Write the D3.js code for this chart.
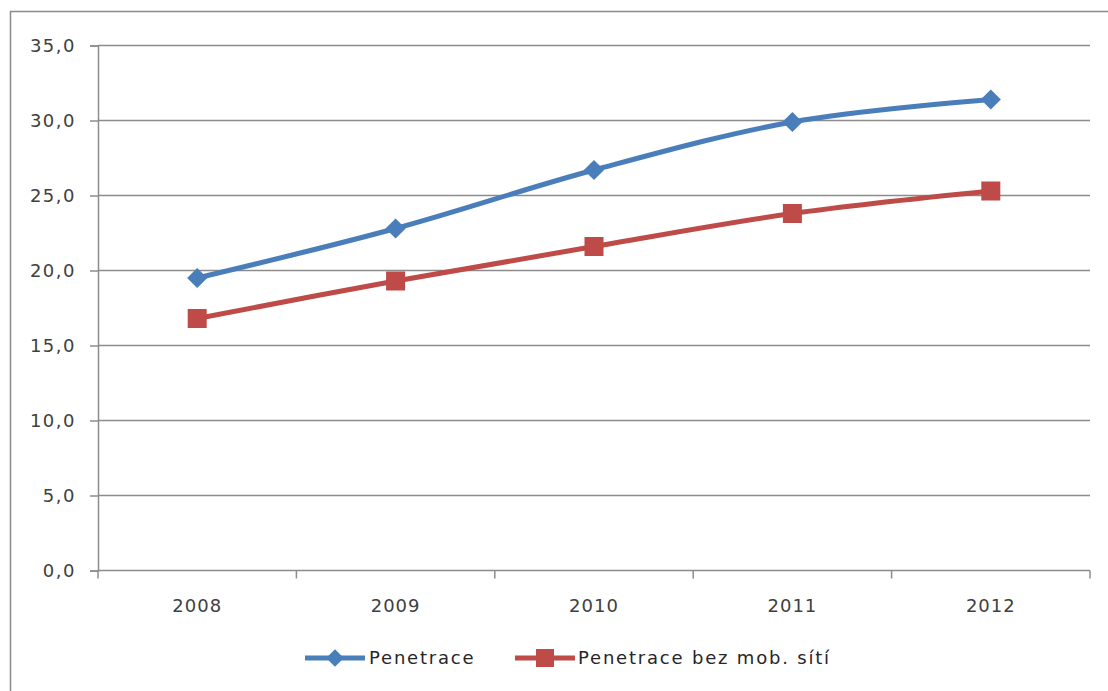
<!DOCTYPE html>
<html><head><meta charset="utf-8">
<script src="https://cdn.jsdelivr.net/npm/d3@7"></script>
<style>body{margin:0;background:#fff}svg{display:block}</style>
</head><body>
<script>
const years = ["2008","2009","2010","2011","2012"];
const penetrace = [19.5, 22.8, 26.7, 29.9, 31.4];
const penetraceBezMob = [16.8, 19.3, 21.6, 23.8, 25.3];
const yTicks = [0,5,10,15,20,25,30,35];
const seriesNames = ["Penetrace","Penetrace bez mob. sítí"];
const colors = ["#4A7EBB","#BE4B48"];

(function(){
const W=1108,H=691;
const svg=d3.select("body").append("svg").attr("width",W).attr("height",H);
const font="DejaVu Sans";
svg.append("rect").attr("x",10.5).attr("y",11.5).attr("width",1200).attr("height",800)
  .attr("fill","#fff").attr("stroke","#8a8a8a").attr("stroke-width",1.5);

const pLeft=98,pRight=1090,pTop=45.5,pBottom=570.5;
const x=d3.scaleBand().domain(years).range([pLeft,pRight]);
const y=d3.scaleLinear().domain([0,35]).range([pBottom,pTop]);

svg.append("g").selectAll("line").data(yTicks.filter(d=>d>0)).join("line")
  .attr("x1",pLeft).attr("x2",pRight).attr("y1",d=>y(d)).attr("y2",d=>y(d))
  .attr("stroke","#8c8c8c").attr("stroke-width",1.5);

const ya=svg.append("g").attr("transform",`translate(${pLeft},0)`)
  .call(d3.axisLeft(y).tickValues(yTicks).tickSize(8).tickPadding(14).tickFormat(d=>d3.format(".1f")(d).replace(".",",")));
ya.select(".domain").attr("stroke","#8c8c8c").attr("stroke-width",1.5);
ya.selectAll(".tick line").attr("stroke","#8c8c8c").attr("stroke-width",1.5);
ya.selectAll("text").attr("font-family",font).attr("font-size",18).attr("letter-spacing","1.5px").attr("fill","#404040");

const xa=svg.append("g").attr("transform",`translate(0,${pBottom})`)
  .call(d3.axisBottom(x).tickSize(0).tickPadding(29));
xa.select(".domain").remove();
xa.selectAll("text").attr("font-family",font).attr("font-size",18).attr("letter-spacing","1px").attr("fill","#404040");
svg.append("line").attr("x1",pLeft).attr("x2",pRight).attr("y1",pBottom).attr("y2",pBottom)
  .attr("stroke","#8c8c8c").attr("stroke-width",1.5);
const bounds=years.map(d=>x(d)).concat([pRight]);
svg.append("g").selectAll("line").data(bounds).join("line")
  .attr("x1",d=>d).attr("x2",d=>d).attr("y1",pBottom).attr("y2",pBottom+8)
  .attr("stroke","#8c8c8c").attr("stroke-width",1.5);

const cx=d=>x(d)+x.bandwidth()/2;
const line=d3.line().curve(d3.curveCatmullRom.alpha(0));
const data=[penetrace,penetraceBezMob];
data.forEach((vals,i)=>{
  const pts=years.map((yr,j)=>[cx(yr),y(vals[j])]);
  svg.append("path").attr("d",line(pts)).attr("fill","none").attr("stroke",colors[i]).attr("stroke-width",5);
  const g=svg.append("g");
  pts.forEach(p=>{
    if(i===0) g.append("path").attr("d",d3.symbol(d3.symbolDiamond2,260)()).attr("transform",`translate(${p[0]},${p[1]})`).attr("fill",colors[i]);
    else g.append("rect").attr("x",p[0]-9.5).attr("y",p[1]-9.5).attr("width",19).attr("height",19).attr("fill",colors[i]);
  });
});

const ly=658;
const leg=[{x0:305,x1:365,tx:369},{x0:515,x1:575,tx:578}];
leg.forEach((l,i)=>{
  svg.append("line").attr("x1",l.x0).attr("x2",l.x1).attr("y1",ly).attr("y2",ly).attr("stroke",colors[i]).attr("stroke-width",5);
  const mx=(l.x0+l.x1)/2;
  if(i===0) svg.append("path").attr("d",d3.symbol(d3.symbolDiamond2,200)()).attr("transform",`translate(${mx},${ly})`).attr("fill",colors[i]);
  else svg.append("rect").attr("x",mx-9).attr("y",ly-9).attr("width",18).attr("height",18).attr("fill",colors[i]);
  svg.append("text").attr("x",l.tx).attr("y",ly).attr("dy","0.35em").attr("font-family",font).attr("font-size",18).attr("letter-spacing","1.8px").attr("fill","#262626").text(seriesNames[i]);
});
})();
</script>
</body></html>
